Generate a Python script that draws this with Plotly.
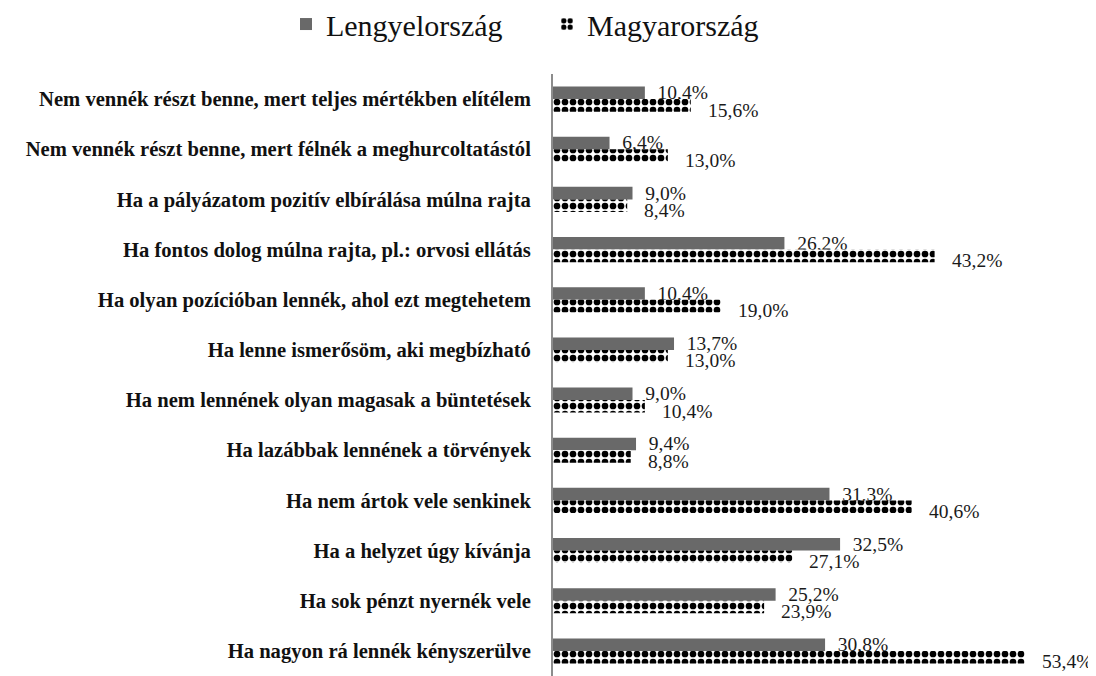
import plotly.graph_objects as go

categories = [
    "Nem vennék részt benne, mert teljes mértékben elítélem",
    "Nem vennék részt benne, mert félnék a meghurcoltatástól",
    "Ha a pályázatom pozitív elbírálása múlna rajta",
    "Ha fontos dolog múlna rajta, pl.: orvosi ellátás",
    "Ha olyan pozícióban lennék, ahol ezt megtehetem",
    "Ha lenne ismerősöm, aki megbízható",
    "Ha nem lennének olyan magasak a büntetések",
    "Ha lazábbak lennének a törvények",
    "Ha nem ártok vele senkinek",
    "Ha a helyzet úgy kívánja",
    "Ha sok pénzt nyernék vele",
    "Ha nagyon rá lennék kényszerülve",
]
lengyel = [10.4, 6.4, 9.0, 26.2, 10.4, 13.7, 9.0, 9.4, 31.3, 32.5, 25.2, 30.8]
magyar = [15.6, 13.0, 8.4, 43.2, 19.0, 13.0, 10.4, 8.8, 40.6, 27.1, 23.9, 53.4]


def fmt(v):
    return f"{v:.1f}".replace(".", ",") + "%"


label_font = dict(family="Liberation Serif", size=19.5, color="#1a1a1a")

fig = go.Figure()
fig.add_trace(go.Bar(
    name="Lengyelország", y=categories, x=lengyel, orientation="h",
    marker=dict(color="#696969", line=dict(width=0)),
    text=["  " + fmt(v) for v in lengyel], textposition="outside",
    textfont=label_font, constraintext="none",
    cliponaxis=False,
))
fig.add_trace(go.Bar(
    name="Magyarország", y=categories, x=magyar, orientation="h",
    marker=dict(color="white", line=dict(width=0),
                pattern=dict(shape=".", fgcolor="black", bgcolor="white",
                             size=8, solidity=0.55, fillmode="replace")),
    cliponaxis=False,
))

for cat, v in zip(categories, magyar):
    fig.add_annotation(
        x=v, y=cat, text=fmt(v), showarrow=False,
        xanchor="left", yanchor="middle", xshift=15, yshift=-11,
        font=label_font,
    )

fig.update_layout(
    width=1088, height=668,
    barmode="group", bargap=0.5, bargroupgap=0.0,
    plot_bgcolor="white", paper_bgcolor="white",
    margin=dict(l=545, r=13, t=66, b=0, autoexpand=False),
    font=dict(family="Liberation Serif", color="#111"),
    legend=dict(orientation="h", xref="container", yref="container",
                x=0.2555, xanchor="left", y=0.976, yanchor="middle",
                font=dict(family="Liberation Serif", size=30, color="#111"),
                itemwidth=30, entrywidth=216, traceorder="normal"),
    xaxis=dict(range=[0, 60], visible=False),
    yaxis=dict(autorange="reversed", showline=True, linecolor="#8c8c8c",
               linewidth=2, ticks="", showgrid=False,
               tickfont=dict(family="Liberation Serif", size=20.6,
                             color="#111", weight="bold"),
               ticklabelstandoff=16),
)

fig.write_html("out.html")
